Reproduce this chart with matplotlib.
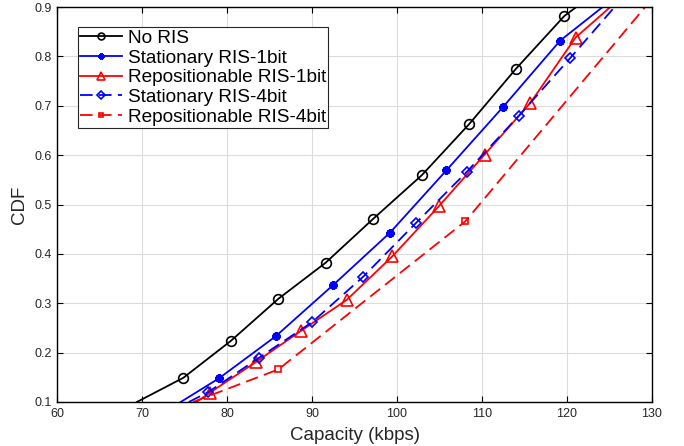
import matplotlib
matplotlib.use("Agg")
import matplotlib.pyplot as plt

plt.rcParams['font.family'] = ['Liberation Sans', 'DejaVu Sans']

# values (first/last points are where a line leaves the axes)
no_ris_x = [69.4, 74.86, 80.47, 86.04, 91.6, 97.2, 102.9, 108.5, 114.0, 119.7, 121.1]
no_ris_y = [0.1, 0.149, 0.224, 0.309, 0.382, 0.471, 0.559, 0.663, 0.775, 0.882, 0.9]

stat1_x = [74.55, 79.06, 85.72, 92.43, 99.18, 105.8, 112.5, 119.2, 124.2]
stat1_y = [0.1, 0.148, 0.233, 0.336, 0.443, 0.569, 0.698, 0.832, 0.9]

repo1_x = [76.4, 78.0, 83.4, 88.7, 94.1, 99.45, 104.9, 110.3, 115.7, 121.0, 125.1]
repo1_y = [0.1, 0.119, 0.181, 0.244, 0.307, 0.395, 0.496, 0.601, 0.706, 0.838, 0.9]

stat4_x = [75.5, 77.8, 83.8, 90.04, 96.04, 102.2, 108.2, 114.35, 120.4, 125.6]
stat4_y = [0.1, 0.12, 0.19, 0.262, 0.354, 0.462, 0.566, 0.680, 0.797, 0.9]

repo4_x = [76.0, 86.04, 108.04, 129.2]
repo4_y = [0.1, 0.166, 0.466, 0.9]

x_ticks = [60, 70, 80, 90, 100, 110, 120, 130]
y_ticks = [0.1, 0.2, 0.3, 0.4, 0.5, 0.6, 0.7, 0.8, 0.9]

txt = '#262626'
lw = 1.3
dash = (0, (7, 3.5))

fig = plt.figure(figsize=(6.84, 4.46), dpi=100)
ax = fig.add_axes([57/684, 44/446, 595/684, 395/446])

ax.plot(no_ris_x, no_ris_y, color='k', lw=lw, marker='o', markevery=list(range(1, len(no_ris_x)-1)),
        ms=7, mfc='none', mew=1.2, label='No RIS')
ax.plot(stat1_x, stat1_y, color='#0000ff', lw=lw, marker=(8, 2, 0), markevery=list(range(1, len(stat1_x)-1)),
        ms=6, mew=1.8, label='Stationary RIS-1bit')
ax.plot(repo1_x, repo1_y, color='#ff0000', lw=lw, marker='^', markevery=list(range(1, len(repo1_x)-1)),
        ms=8.5, mfc='none', mew=1.2, label='Repositionable RIS-1bit')
ax.plot(stat4_x, stat4_y, color='#0000ff', lw=lw, ls=dash, marker='D', markevery=list(range(1, len(stat4_x)-1)),
        ms=5.5, mfc='none', mew=1.2, label='Stationary RIS-4bit')
ax.plot(repo4_x, repo4_y, color='#ff0000', lw=lw, ls=dash, marker='s', markevery=[1, 2],
        ms=4.5, mfc='none', mew=1.2, label='Repositionable RIS-4bit')

ax.set_xlim(60, 130)
ax.set_ylim(0.1, 0.9)
ax.set_xticks(x_ticks)
ax.set_yticks(y_ticks)
ax.set_xticklabels([str(v) for v in x_ticks])
ax.set_yticklabels(['%.1f' % v for v in y_ticks])
ax.tick_params(direction='in', length=4, width=0.8, top=True, right=True,
               labelsize=9, labelcolor=txt)
ax.tick_params(axis='x', pad=4)
ax.tick_params(axis='y', pad=4)
ax.grid(True, color='#dcdcdc', lw=0.8)
ax.set_axisbelow(True)
for s in ax.spines.values():
    s.set_linewidth(1.0)
    s.set_color('k')

ax.set_xlabel('Capacity (kbps)', fontsize=13.5, color=txt, labelpad=5)
ax.set_ylabel('CDF', fontsize=13.5, color=txt)
ax.yaxis.set_label_coords(-0.049, 0.5)

leg = ax.legend(loc='upper left', bbox_to_anchor=(0.0353, 0.949), borderaxespad=0,
                fontsize=13.7, handlelength=2.2, handletextpad=0.3, labelspacing=0.13,
                borderpad=0.12, markerscale=0.7, fancybox=False, framealpha=1)
leg.get_frame().set_edgecolor('#262626')
leg.get_frame().set_linewidth(0.8)

fig.savefig('out.png', dpi=100)
